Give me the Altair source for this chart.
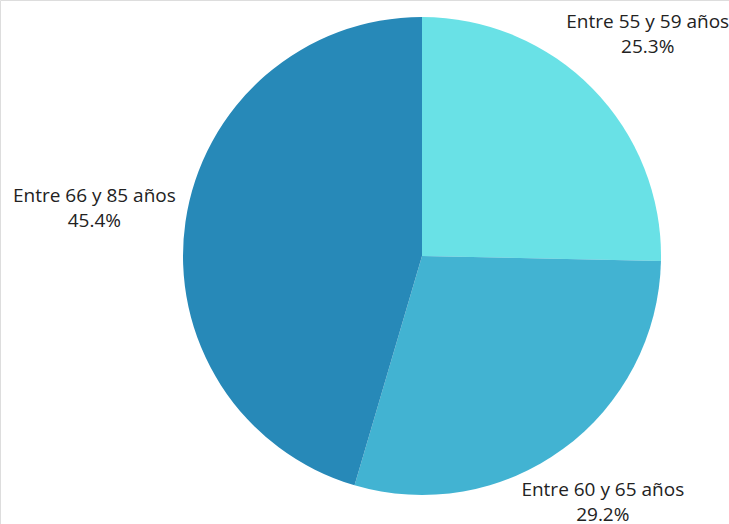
import altair as alt
import pandas as pd

categories = ["Entre 55 y 59 años", "Entre 60 y 65 años", "Entre 66 y 85 años"]
values = [25.3, 29.2, 45.4]
colors = ["#69E1E6", "#42B3D2", "#2789B8"]

# label distance from the pie centre (style)
label_radius = {"Entre 55 y 59 años": 316, "Entre 60 y 65 años": 306, "Entre 66 y 85 años": 331}

df = pd.DataFrame({
    "cat": categories,
    "value": values,
    "idx": list(range(len(categories))),
})
df["lr"] = df["cat"].map(label_radius)

CX, CY, R = 422, 256, 239

base = alt.Chart(df)

arc = base.mark_arc(outerRadius=R).encode(
    theta=alt.Theta("value:Q", stack=True),
    color=alt.Color("cat:N", scale=alt.Scale(domain=categories, range=colors), legend=None),
    order=alt.Order("idx:Q"),
    x=alt.value(CX),
    y=alt.value(CY),
)

text = base.transform_joinaggregate(
    total="sum(value)"
).transform_window(
    cum="sum(value)", sort=[alt.SortField("idx")], frame=[None, 0]
).transform_calculate(
    mid="(datum.cum - datum.value / 2) / datum.total * 2 * PI",
    label="datum.cat + '\\n' + format(datum.value, '.1f') + '%'",
).mark_text(
    font="Open Sans", fontSize=19, lineBreak="\n", lineHeight=25, dy=-12.5,
    color="#222222", align="center", baseline="middle",
).encode(
    theta=alt.Theta("mid:Q", scale=None, stack=False),
    radius=alt.Radius("lr:Q", scale=None),
    text="label:N",
    x=alt.value(CX),
    y=alt.value(CY),
)

chart = alt.layer(arc, text).properties(
    width=729, height=524, padding=0, autosize=alt.AutoSizeParams(type="none")
).configure_view(stroke=None).configure(background="white")

chart.save("out.html", embed_options={"renderer": "svg", "actions": False})
